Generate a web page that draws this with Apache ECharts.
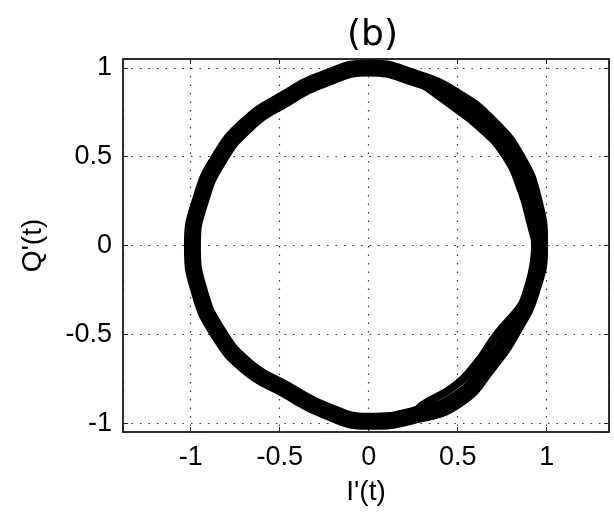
<!DOCTYPE html>
<html>
<head>
<meta charset="utf-8">
<title>(b)</title>
<script src="https://cdn.jsdelivr.net/npm/echarts@6/dist/echarts.min.js"></script>
<style>
  html, body { margin: 0; padding: 0; background: #fff; }
  #chart { width: 614px; height: 514px; }
</style>
</head>
<body>
<div id="chart"></div>
<script>
// I'(t) / Q'(t) trace, centre line of the band (counter-clockwise,
// starting a little below the right edge and running one step past it so the loop closes)
const traceI = [0.918, 0.96, 0.929, 0.838, 0.684, 0.485, 0.253, 0.0, -0.251, -0.475, -0.682, -0.842, -0.945,
  -0.99, -0.952, -0.847, -0.682, -0.468, -0.248, 0.0, 0.256, 0.5, 0.675, 0.814, 0.918, 0.96, 0.929]
const traceQ = [-0.246, 0.0, 0.249, 0.484, 0.684, 0.84, 0.945, 1.0, 0.937, 0.823, 0.682, 0.486, 0.253,
  0.0, -0.255, -0.489, -0.682, -0.81, -0.927, -0.99, -0.956, -0.866, -0.675, -0.47, -0.246, 0.0, 0.249]
// spread of the traces on the inner side, upper right and lower right
const upperI = [0.253, 0.45, 0.63, 0.77, 0.86, 0.91, 0.955]
const upperQ = [0.945, 0.8, 0.66, 0.5, 0.3, 0.12, -0.05]
const lowerI = [0.918, 0.84, 0.72, 0.6, 0.47, 0.3, 0.256]
const lowerQ = [-0.246, -0.36, -0.5, -0.67, -0.8, -0.9, -0.956]
const tickValues = [-1, -0.5, 0, 0.5, 1]

const chart = echarts.init(document.getElementById('chart'))

const labelFmt = (v) => {
  // only the nice ticks get a label, not the axis ends
  for (const t of tickValues) {
    if (Math.abs(v - t) < 1e-6) return String(t)
  }
  return ''
}

const gridLine = {
  show: true,
  lineStyle: { color: '#333', width: 1.2, type: [1.5, 7] }
}

const axisBase = {
  type: 'value',
  axisLine: { show: true, onZero: false, lineStyle: { color: '#222', width: 1.5 } },
  axisTick: { show: true, inside: true, length: 5, lineStyle: { color: '#222' } },
  splitLine: gridLine
}

const labelStyle = { fontFamily: 'Liberation Sans', fontSize: 27, color: '#000' }
const nameStyle = { fontFamily: 'Liberation Sans', fontSize: 28, color: '#000' }

const toPairs = (xs, ys) => xs.map((v, i) => [v, ys[i]])

const traceSeries = (data, width) => ({
  type: 'line',
  data: data,
  showSymbol: false,
  symbol: 'none',
  smooth: 0.5,
  lineStyle: { color: '#000', width: width, join: 'round', cap: 'round' }
})

const option = {
  backgroundColor: '#fff',
  animation: false,
  title: {
    text: '(b)',
    left: 342,
    top: 13,
    textStyle: { fontFamily: 'DejaVu Sans', fontSize: 36, fontWeight: 'normal', color: '#000' }
  },
  grid: { left: 123, right: 5, top: 59, bottom: 82, show: true, borderColor: '#222', borderWidth: 1.5 },
  xAxis: [
    Object.assign({}, axisBase, {
      min: -1.38,
      max: 1.35,
      name: "I'(t)",
      nameLocation: 'middle',
      nameGap: 46,
      nameTextStyle: nameStyle,
      axisLabel: Object.assign({ formatter: labelFmt, margin: 12 }, labelStyle)
    }),
    Object.assign({}, axisBase, {
      position: 'top',
      min: -1.38,
      max: 1.35,
      axisLabel: { show: false },
      splitLine: { show: false }
    })
  ],
  yAxis: [
    Object.assign({}, axisBase, {
      min: -1.05,
      max: 1.05,
      name: "Q'(t)",
      nameLocation: 'middle',
      nameGap: 76,
      nameTextStyle: nameStyle,
      axisLabel: Object.assign({ formatter: labelFmt, margin: 11 }, labelStyle)
    }),
    Object.assign({}, axisBase, {
      position: 'right',
      min: -1.05,
      max: 1.05,
      axisLabel: { show: false },
      splitLine: { show: false }
    })
  ],
  series: [
    traceSeries(toPairs(traceI, traceQ), 17),
    traceSeries(toPairs(upperI, upperQ), 8),
    traceSeries(toPairs(lowerI, lowerQ), 8)
  ]
}

chart.setOption(option)
</script>
</body>
</html>
